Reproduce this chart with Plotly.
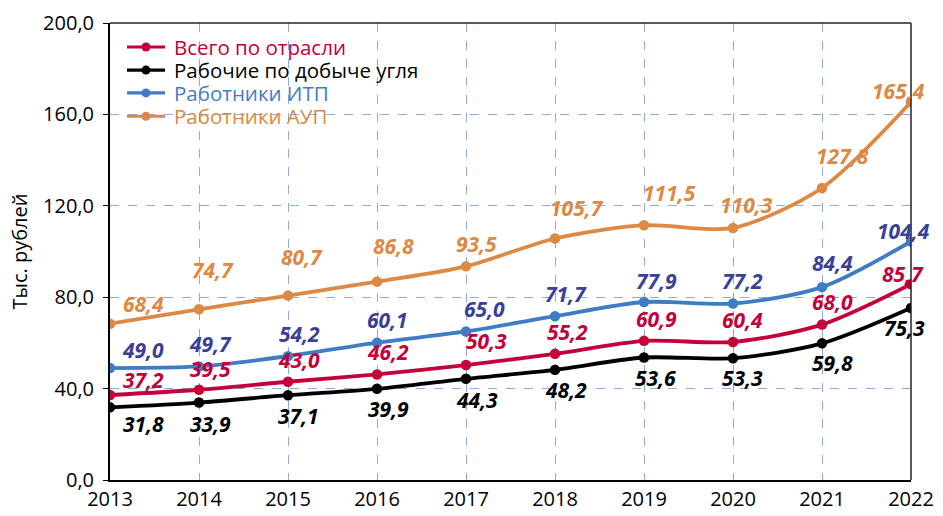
import plotly.graph_objects as go

years = [2013, 2014, 2015, 2016, 2017, 2018, 2019, 2020, 2021, 2022]
vsego = [37.2, 39.5, 43.0, 46.2, 50.3, 55.2, 60.9, 60.4, 68.0, 85.7]
rabochie = [31.8, 33.9, 37.1, 39.9, 44.3, 48.2, 53.6, 53.3, 59.8, 75.3]
itp = [49.0, 49.7, 54.2, 60.1, 65.0, 71.7, 77.9, 77.2, 84.4, 104.4]
aup = [68.4, 74.7, 80.7, 86.8, 93.5, 105.7, 111.5, 110.3, 127.8, 165.4]
names = ["Всего по отрасли", "Рабочие по добыче угля", "Работники ИТП", "Работники АУП"]
y_ticks = [0, 40, 80, 120, 160, 200]

# label pixel offsets (dx, dy up)
off_aup = [(33, 20), (14, 39), (14, 39), (16, 36), (10, 22), (22, 30), (25, 32), (13, 23), (20, 32), (-13, 11)]
off_itp = [(33, 18), (11, 22), (11, 22), (10, 23), (18, 22), (11, 22), (12, 21), (9, 23), (10, 24), (-8, 10)]
off_vsego = [(33, 15), (11, 21), (11, 22), (11, 22), (20, 24), (12, 22), (12, 22), (9, 22), (10, 23), (-8, 10)]
off_rab = [(33, -17), (11, -21), (10, -21), (11, -20), (11, -21), (11, -20), (11, -20), (9, -20), (10, -20), (-7, -20)]

# (values, name, line colour, label colour, legend text colour, offsets)
series = [
    (vsego, names[0], "#c4003a", "#c4003a", "#c4003a", off_vsego),
    (rabochie, names[1], "#000000", "#000000", "#000000", off_rab),
    (itp, names[2], "#3f7cc4", "#3b3f96", "#3f7cc4", off_itp),
    (aup, names[3], "#dd8843", "#dd8843", "#dd8843", off_aup),
]

FONT = "Open Sans"
fig = go.Figure()
annotations = []
shapes = []

# legend geometry (paper coords)
leg_rows = [0.9475, 0.897, 0.847, 0.796]
lx0, lx1, ldot, ltext = 0.0212, 0.0687, 0.0449, 0.0774

for i, (vals, nm, col, lcol, tcol, offs) in enumerate(series):
    fig.add_trace(go.Scatter(
        x=years, y=vals, mode="lines+markers", name=nm, showlegend=False,
        line=dict(color=col, width=3.8, shape="spline", smoothing=0.8),
        marker=dict(color=col, size=10.5),
    ))
    for x, v, (dx, dy) in zip(years, vals, offs):
        annotations.append(dict(
            x=x, y=v, xref="x", yref="y", text=f"{v:.1f}".replace(".", ","),
            showarrow=False, xanchor="center", yanchor="middle",
            xshift=dx, yshift=dy,
            font=dict(family=FONT, size=21, color=lcol, weight="bold", style="italic"),
        ))
    ry = leg_rows[i]
    shapes.append(dict(type="line", xref="paper", yref="paper", x0=lx0, x1=lx1, y0=ry, y1=ry,
                       line=dict(color=col, width=3.2)))
    shapes.append(dict(type="circle", xref="paper", yref="paper", xsizemode="pixel", ysizemode="pixel",
                       xanchor=ldot, yanchor=ry, x0=-4.5, x1=4.5, y0=-4.5, y1=4.5,
                       fillcolor=col, line=dict(color=col, width=0)))
    annotations.append(dict(x=ltext, y=ry, xref="paper", yref="paper", text=nm,
                            showarrow=False, xanchor="left", yanchor="middle",
                            font=dict(family=FONT, size=20.5, color=tcol)))

shapes += [
    dict(type="line", xref="paper", yref="paper", x0=0, x1=1, y0=1, y1=1,
         line=dict(color="#222222", width=1.5)),
    dict(type="line", xref="paper", yref="paper", x0=1, x1=1, y0=0, y1=1,
         line=dict(color="#222222", width=1.5)),
]

fig.update_layout(
    width=943, height=516,
    margin=dict(l=110, r=32, t=23, b=36, autoexpand=False),
    plot_bgcolor="white", paper_bgcolor="white",
    font=dict(family=FONT, size=20, color="black"),
    annotations=annotations,
    shapes=shapes,
    showlegend=False,
    xaxis=dict(range=[2013, 2022], tickvals=years, ticktext=[str(y) for y in years],
               showgrid=True, gridcolor="#8faadc", griddash="dash", gridwidth=1,
               showline=True, linecolor="black", linewidth=2, automargin=False,
               ticks="", tickfont=dict(size=20), zeroline=False),
    yaxis=dict(range=[0, 200], tickvals=y_ticks,
               ticktext=[f"{t:.1f}".replace(".", ",") for t in y_ticks],
               showgrid=True, gridcolor="#8faadc", griddash="dash", gridwidth=1,
               showline=True, linecolor="black", linewidth=2, automargin=False,
               ticks="outside", ticklen=5, tickcolor="black",
               tickfont=dict(size=20), zeroline=False, ticklabelstandoff=5,
               title=dict(text="Тыс. рублей", font=dict(size=20), standoff=10)),
)

fig.write_html("out.html", config={"displayModeBar": False},
               post_script="document.body.style.margin='0';")
